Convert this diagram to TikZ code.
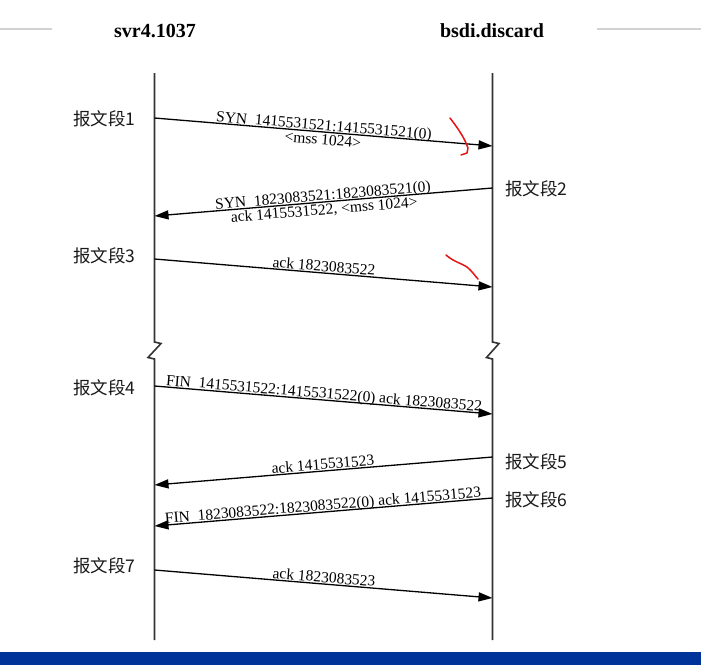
\documentclass[tikz,border=0pt]{standalone}
\usepackage{fontspec}
\setmainfont{Liberation Serif}
\newfontfamily\cjk{Noto Sans CJK SC}
\usetikzlibrary{arrows.meta}
\definecolor{barblue}{RGB}{0,51,153}
\definecolor{rulegray}{RGB}{210,210,210}
\definecolor{inkred}{RGB}{230,20,20}
\begin{document}
\begin{tikzpicture}[x=1pt,y=-1pt,
  life/.style={line width=1.6pt, draw=black!80, line join=miter},
  msg/.style={line width=1.3pt, draw=black, -{Triangle[length=14pt,width=9pt]}},
  labup/.style={font=\fontsize{15.5}{17}\selectfont, inner sep=1pt, sloped, above, text depth=0pt},
  labdown/.style={font=\fontsize{15.5}{17}\selectfont, inner sep=1pt, sloped, below, text height=11pt},
  seg/.style={font=\cjk\fontsize{17.5}{20}\selectfont, inner sep=0pt, anchor=west, text=black!90},
  ttl/.style={font=\bfseries\fontsize{20}{22}\selectfont, inner sep=0pt},
  topline/.style={draw=rulegray, line width=2.2pt},
  redmark/.style={draw=inkred, line width=1.5pt, line cap=round, line join=round}
]
\useasboundingbox (0,0) rectangle (701,665);
% bottom bar
\fill[barblue] (0,652) rectangle (701,665);
% top rules
\coordinate (r1a) at (0,29);  \coordinate (r1b) at (52,29);
\coordinate (r2a) at (597,29); \coordinate (r2b) at (701,29);
\draw[topline] (r1a) -- (r1b);
\draw[topline] (r2a) -- (r2b);
% titles
\node[ttl] (tA) at (155,31) {svr4.1037};
\node[ttl] (tB) at (492,31) {bsdi.discard};
% lifelines
\coordinate (Ltop) at (154.5,73);  \coordinate (Lbot) at (154.5,640);
\coordinate (Rtop) at (492.5,73);  \coordinate (Rbot) at (492.5,640);
\draw[life] (Ltop) -- (154.5,342) -- (161,343.5) -- (148,357.5) -- (154.5,359) -- (Lbot);
\draw[life] (Rtop) -- (492.5,342) -- (499,343.5) -- (486.5,357.5) -- (492.5,359) -- (Rbot);
% message end points
\coordinate (a1) at (154.5,118); \coordinate (b1) at (492.5,146);
\coordinate (b2) at (492.5,188); \coordinate (a2) at (154.5,216);
\coordinate (a3) at (154.5,259); \coordinate (b3) at (492.5,287);
\coordinate (a4) at (154.5,386); \coordinate (b4) at (492.5,414);
\coordinate (b5) at (492.5,457); \coordinate (a5) at (154.5,485);
\coordinate (b6) at (492.5,498); \coordinate (a6) at (154.5,526);
\coordinate (a7) at (154.5,570); \coordinate (b7) at (492.5,598);
% messages
\draw[msg] (a1) -- node[labup]{SYN\ \ 1415531521:1415531521(0)} node[labdown]{<mss 1024>} (b1);
\draw[msg] (b2) -- node[labup]{SYN\ \ 1823083521:1823083521(0)} node[labdown]{ack 1415531522, <mss 1024>} (a2);
\draw[msg] (a3) -- node[labup]{ack 1823083522} (b3);
\draw[msg] (a4) -- node[labup]{FIN\ \ 1415531522:1415531522(0) ack 1823083522} (b4);
\draw[msg] (b5) -- node[labup]{ack 1415531523} (a5);
\draw[msg] (b6) -- node[labup]{FIN\ \ 1823083522:1823083522(0) ack 1415531523} (a6);
\draw[msg] (a7) -- node[labup]{ack 1823083523} (b7);
% segment labels
\node[seg] (s1) at (73,119) {报文段1};
\node[seg] (s2) at (505,189) {报文段2};
\node[seg] (s3) at (73,256) {报文段3};
\node[seg] (s4) at (73,388) {报文段4};
\node[seg] (s5) at (505,462) {报文段5};
\node[seg] (s6) at (505,500) {报文段6};
\node[seg] (s7) at (73,566) {报文段7};
% red hand marks
\draw[redmark] (450,118) .. controls (457,127) and (463,136) .. (466,143) -- (468,148) -- (467,153) -- (461,155);
\draw[redmark] (446,255) .. controls (454,262) and (461,263) .. (467,267) .. controls (472,271) and (475,276) .. (478,279);
\end{tikzpicture}
\end{document}
